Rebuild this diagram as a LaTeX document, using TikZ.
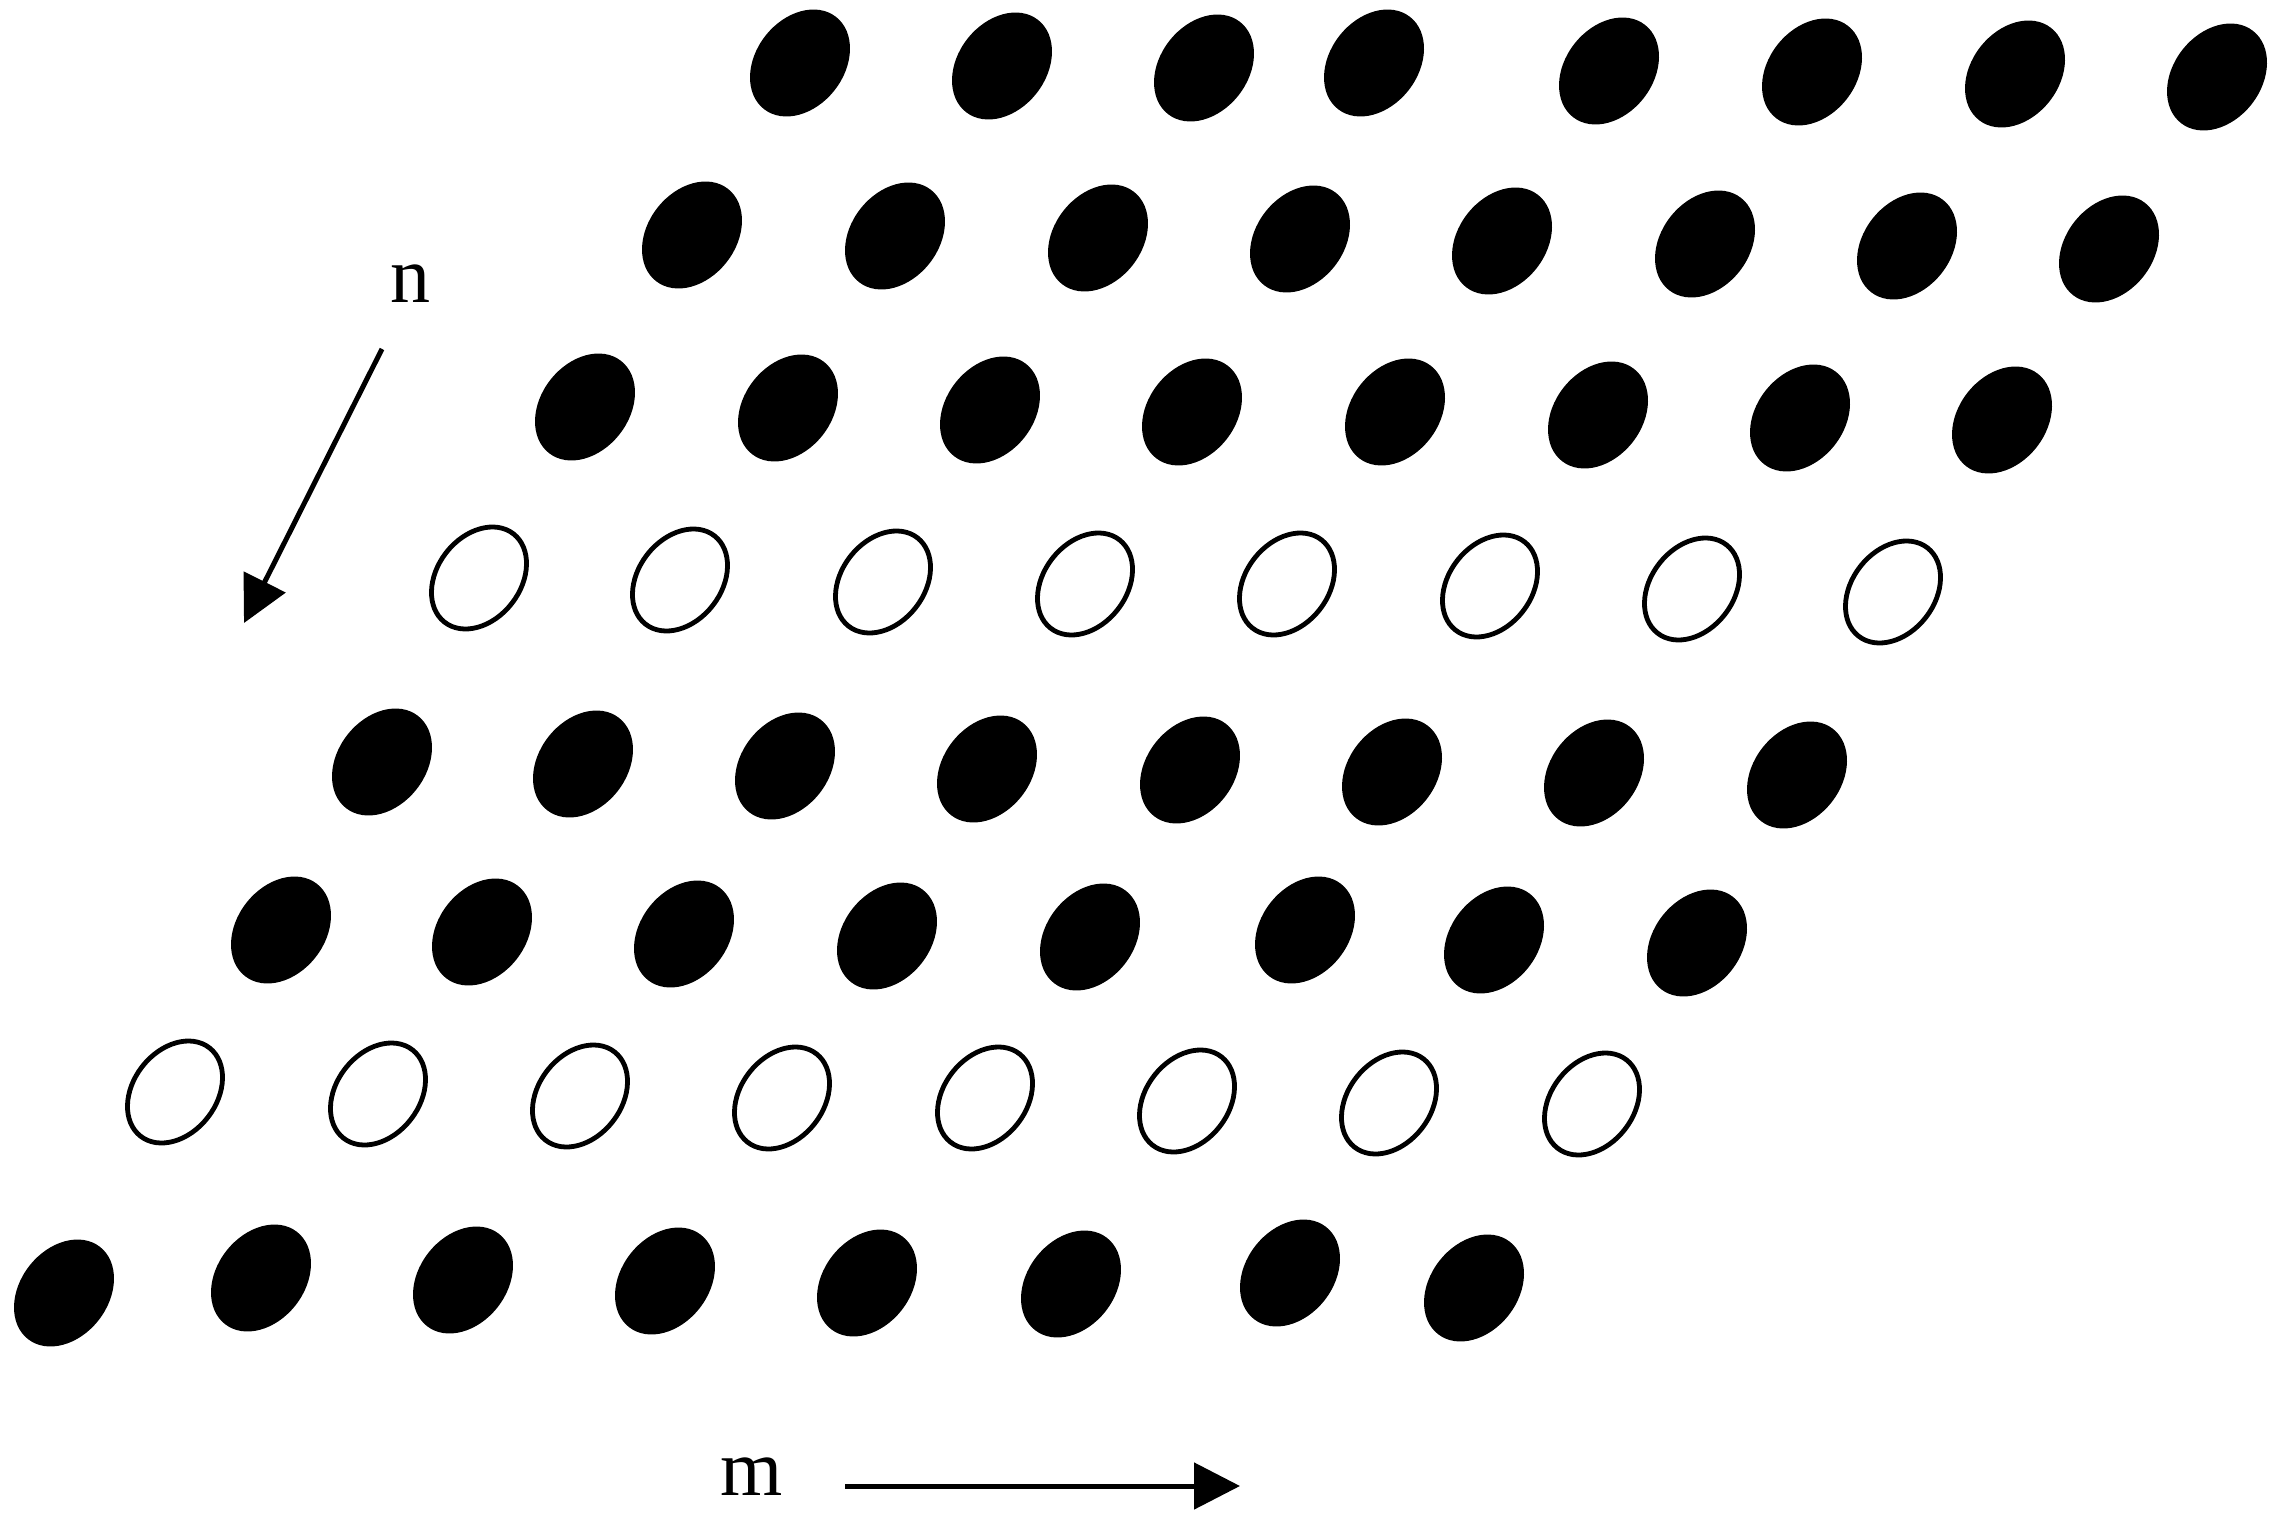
\documentclass[tikz,border=0pt]{standalone}
\usepackage{fontspec}
\setmainfont{Liberation Serif}
\usetikzlibrary{shapes.geometric,arrows.meta}
\begin{document}
\begin{tikzpicture}[x=1pt,y=-1pt,
  dotf/.style={ellipse, fill=black, draw=none, inner sep=0pt, outer sep=0pt,
    minimum width=117pt, minimum height=88pt, rotate=52},
  doto/.style={ellipse, draw=black, fill=none, line width=4.8pt, inner sep=0pt,
    minimum width=112pt, minimum height=83pt, rotate=52},
  arr/.style={line width=5pt, -{Triangle[length=46pt,width=46pt]}},
  lab/.style={anchor=base, inner sep=0pt, font=\fontsize{80}{96}\selectfont}]
\fill[white] (0,0) rectangle (2281,1522);
\path[use as bounding box] (0,0) rectangle (2281,1522);
% row 1 (filled)
\foreach \x/\y [count=\i] in {800/63,1002/66,1204/68,1374/63,1609/71,1812/72,2015/74,2217/77}
  \node[dotf] (ra\i) at (\x,\y) {};
% row 2 (filled)
\foreach \x/\y [count=\i] in {692/235,895/236,1098/238,1300/239,1502/241,1705/244,1907/246,2109/249}
  \node[dotf] (rb\i) at (\x,\y) {};
% row 3 (filled)
\foreach \x/\y [count=\i] in {585/407,788/408,990/410,1192/412,1395/412,1598/415,1800/418,2002/420}
  \node[dotf] (rc\i) at (\x,\y) {};
% row 4 (open)
\foreach \x/\y [count=\i] in {479/578,680/580,883/582,1085/584,1287/584,1490/586,1692/589,1893/592}
  \node[doto] (rd\i) at (\x,\y) {};
% row 5 (filled)
\foreach \x/\y [count=\i] in {382/762,583/764,785/766,987/769,1190/770,1392/772,1594/773,1797/775}
  \node[dotf] (re\i) at (\x,\y) {};
% row 6 (filled)
\foreach \x/\y [count=\i] in {281/930,482/932,684/934,887/936,1090/937,1305/930,1494/940,1697/943}
  \node[dotf] (rf\i) at (\x,\y) {};
% row 7 (open)
\foreach \x/\y [count=\i] in {175/1092,378/1094,580/1096,782/1098,985/1098,1187/1101,1389/1103,1592/1104}
  \node[doto] (rg\i) at (\x,\y) {};
% row 8 (filled)
\foreach \x/\y [count=\i] in {64/1293,261/1278,463/1280,665/1281,867/1283,1071/1284,1290/1273,1474/1288}
  \node[dotf] (rh\i) at (\x,\y) {};
% direction arrows
\coordinate (nS) at (382,349);
\coordinate (nE) at (244,623);
\draw[arr] (nS) -- (nE);
\node[lab] (nlab) at (410,303) {n};
\coordinate (mS) at (845,1486);
\coordinate (mE) at (1240,1486);
\draw[arr] (mS) -- (mE);
\node[lab] (mlab) at (752,1495) {m};
\end{tikzpicture}
\end{document}
